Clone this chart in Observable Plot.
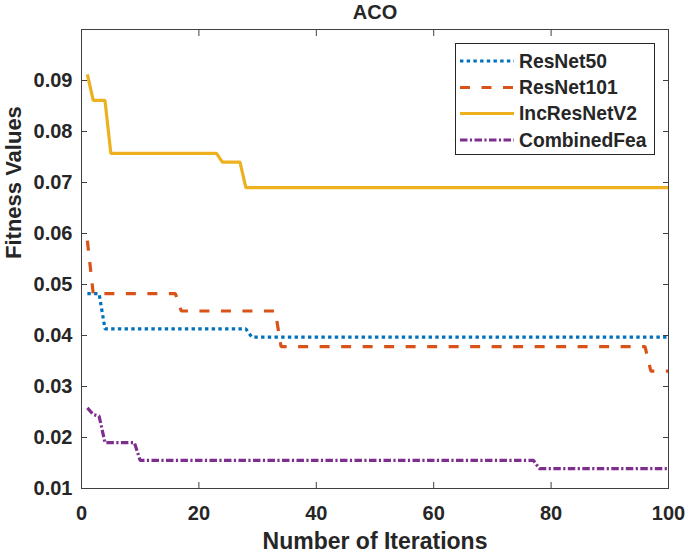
<!DOCTYPE html>
<html><head><meta charset="utf-8">
<script src="https://cdn.jsdelivr.net/npm/d3@7"></script>
<script src="https://cdn.jsdelivr.net/npm/@observablehq/plot@0.6"></script>
<style>
html,body{margin:0;padding:0;background:#fff;}
#wrap{position:relative;width:688px;height:553px;overflow:hidden;}
#wrap svg{display:block}
#legend{position:absolute;left:0;top:0;}
</style></head><body><div id="wrap"></div>
<script>
const titleText = "ACO";
const xLabel = "Number of Iterations";
const yLabel = "Fitness Values";
const seriesNames = ["ResNet50", "ResNet101", "IncResNetV2", "CombinedFea"];

const resnet50Iter = [1, 3, 4, 28, 29, 100];
const resnet50Val  = [0.0482, 0.0482, 0.0413, 0.0413, 0.0397, 0.0397];

const resnet101Iter = [1, 2, 16, 17, 33, 34, 96, 97, 100];
const resnet101Val  = [0.0586, 0.0482, 0.0482, 0.0448, 0.0448, 0.0378, 0.0378, 0.0330, 0.0330];

const incResIter = [1, 2, 4, 5, 23, 24, 27, 28, 100];
const incResVal  = [0.0912, 0.0861, 0.0861, 0.0757, 0.0757, 0.0740, 0.0740, 0.0690, 0.0690];

const combinedIter = [1, 2, 3, 4, 9, 10, 77, 78, 100];
const combinedVal  = [0.0258, 0.0245, 0.0242, 0.0190, 0.0190, 0.0155, 0.0155, 0.0139, 0.0139];

const xTicks = [0, 20, 40, 60, 80, 100];
const yTicks = [0.01, 0.02, 0.03, 0.04, 0.05, 0.06, 0.07, 0.08, 0.09];

const colors = ["#0072BD", "#D95319", "#EDB120", "#7E2F8E"];
const dashes = ["3.4,3.3", "10,11.5", null, "7.5,2.4,2.2,2.4"];

const iters = [resnet50Iter, resnet101Iter, incResIter, combinedIter];
const vals = [resnet50Val, resnet101Val, incResVal, combinedVal];
const series = seriesNames.map((name, i) => ({
  name, color: colors[i], dash: dashes[i],
  rows: iters[i].map((x, j) => ({iter: x, value: vals[i][j], name}))
}));

const font = "'Liberation Sans', Arial, Helvetica, sans-serif";
const ink = "#262626";
const axisInk = "#404040";

const plot = Plot.plot({
  width: 688, height: 553,
  marginLeft: 81, marginRight: 20, marginTop: 29, marginBottom: 65,
  style: {fontFamily: font, fontWeight: "bold", color: ink, background: "#fff", overflow: "visible"},
  x: {domain: [0, 100]},
  y: {domain: [0.01, 0.1]},
  marks: [
    ...series.map(s => Plot.line(s.rows, {
      x: "iter", y: "value", stroke: s.color, strokeWidth: 3.2,
      strokeDasharray: s.dash, strokeLinecap: "butt", strokeLinejoin: "miter"
    })),
    Plot.frame({stroke: axisInk, strokeWidth: 1}),
    Plot.axisX({ticks: xTicks, tickSize: -6, fill: "none", stroke: axisInk, label: null}),
    Plot.axisX({anchor: "top", ticks: xTicks, tickSize: -6, fill: "none", stroke: axisInk, label: null}),
    Plot.axisY({ticks: yTicks, tickSize: -6, fill: "none", stroke: axisInk, label: null}),
    Plot.axisY({anchor: "right", ticks: yTicks, tickSize: -6, fill: "none", stroke: axisInk, label: null}),
    Plot.axisX({ticks: xTicks, tickSize: 0, tickPadding: 17, fontSize: 20, fill: ink, label: null}),
    Plot.axisY({ticks: yTicks, tickSize: 0, tickPadding: 9, tickFormat: d3.format(".2f"), fontSize: 20, fill: ink, label: null}),
    Plot.text([xLabel], {text: d => d, frameAnchor: "bottom", dy: 60, lineAnchor: "bottom", fontSize: 23, fontWeight: "bold", fill: ink}),
    Plot.text([yLabel], {text: d => d, frameAnchor: "left", dx: -61, rotate: -90, lineAnchor: "bottom", fontSize: 22, fontWeight: "bold", fill: ink}),
    Plot.text([titleText], {text: d => d, frameAnchor: "top", dy: -11, lineAnchor: "bottom", fontSize: 20, fontWeight: "bold", fill: ink})
  ]
});

const wrap = document.getElementById("wrap");
wrap.appendChild(plot);

// Legend overlay
const lg = d3.select(wrap).append("svg").attr("id", "legend")
  .attr("width", 688).attr("height", 553);
lg.append("rect").attr("x", 455.5).attr("y", 43.5).attr("width", 199).attr("height", 111)
  .attr("fill", "#fff").attr("stroke", ink).attr("stroke-width", 1);
const rowY = [61, 87.5, 113.5, 140];
series.forEach((s, i) => {
  lg.append("line").attr("x1", 460).attr("x2", 514).attr("y1", rowY[i]).attr("y2", rowY[i])
    .attr("stroke", s.color).attr("stroke-width", 3.2)
    .attr("stroke-dasharray", s.dash).attr("stroke-linecap", "butt");
  lg.append("text").attr("x", 519).attr("y", rowY[i]).attr("dy", "0.36em")
    .attr("font-family", font).attr("font-weight", "bold").attr("font-size", 19.3)
    .attr("fill", ink).text(s.name);
});
</script></body></html>
